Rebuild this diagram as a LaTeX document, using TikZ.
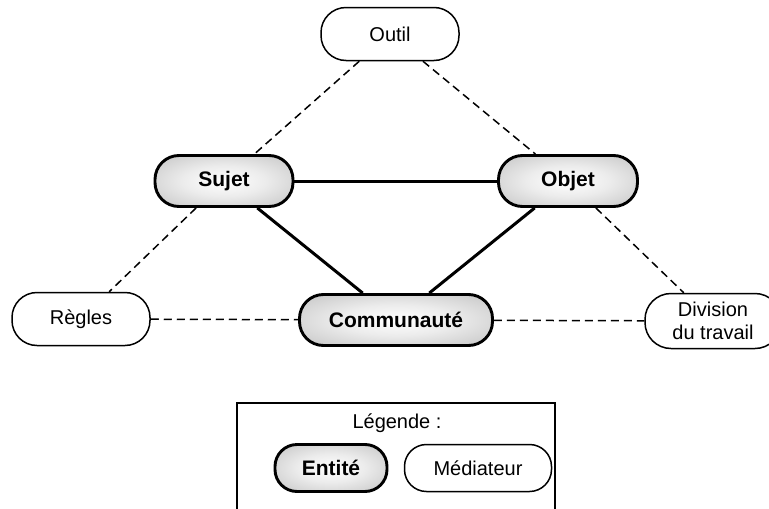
\documentclass[tikz,border=0pt]{standalone}
\usepackage{fontspec}
\setmainfont{Liberation Sans}
\pgfdeclareradialshading{entshade}{\pgfpoint{0bp}{0bp}}{color(0bp)=(white); color(15bp)=(gray!15); color(45bp)=(gray!60); color(72bp)=(gray!80)}
\tikzset{
  base/.style={draw=black, align=center, font=\fontsize{20}{23}\selectfont, inner sep=0pt},
  entity/.style={base, line width=2.9pt, shading=entshade, font=\fontsize{21}{23}\selectfont\bfseries, rounded corners=24pt},
  mediator/.style={base, line width=1.5pt, fill=white, rounded corners=25pt},
  solidlink/.style={line width=3pt},
  dashlink/.style={line width=1.5pt, dash pattern=on 8pt off 5pt},
}
\begin{document}
\begin{tikzpicture}[x=1pt, y=-1pt]
\useasboundingbox (0,0) rectangle (769,509);
% legend frame
\draw[line width=1.3pt] (237,515) -- (237,403) -- (555,403) -- (555,515);
\node[base, draw=none] (legtitle) at (397,423) {Légende :};
\node[entity, minimum width=112pt, minimum height=47pt, rounded corners=22pt] (entite) at (331,468) {Entité};
\node[mediator, minimum width=147pt, minimum height=47pt, rounded corners=22pt] (mediateur) at (478,468) {Médiateur};
% nodes
\node[mediator, minimum width=138pt, minimum height=53pt] (outil) at (390,34) {Outil};
\node[entity, minimum width=138pt, minimum height=51pt] (sujet) at (224,181) {Sujet};
\node[entity, minimum width=139pt, minimum height=51pt] (objet) at (568,181) {Objet};
\node[mediator, minimum width=138pt, minimum height=53pt] (regles) at (81,319) {Règles};
\node[entity, minimum width=193pt, minimum height=51pt] (commu) at (396,320) {Communauté};
\node[mediator, minimum width=136pt, minimum height=55pt, rounded corners=26pt] (division) at (713,321) {Division\\du travail};
% links
\draw[dashlink] (outil) -- (sujet);
\draw[dashlink] (outil) -- (objet);
\draw[dashlink] (sujet) -- (regles);
\draw[dashlink] (objet) -- (division);
\draw[dashlink] (regles) -- (commu);
\draw[dashlink] (commu) -- (division);
\draw[solidlink] (sujet) -- (objet);
\draw[solidlink] (sujet) -- (commu);
\draw[solidlink] (objet) -- (commu);
\end{tikzpicture}
\end{document}
